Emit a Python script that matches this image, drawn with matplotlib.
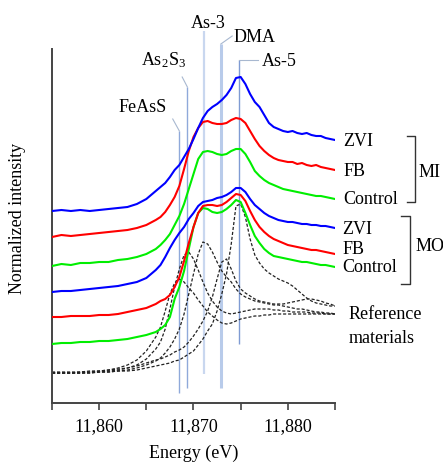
import matplotlib
matplotlib.use("Agg")
import matplotlib.pyplot as plt
from matplotlib.ticker import FuncFormatter, MultipleLocator

plt.rcParams['font.family'] = ['Liberation Serif', 'DejaVu Serif']
plt.rcParams['mathtext.fontset'] = 'stix'

# ---------------- data ----------------
energy = [11855, 11856, 11857, 11858, 11859, 11860, 11861, 11862, 11863, 11864,
          11865, 11866, 11866.5, 11867, 11867.5, 11868, 11868.5, 11869, 11869.5, 11870,
          11870.5, 11871, 11871.5, 11872, 11872.5, 11873, 11873.5, 11874, 11874.5, 11875,
          11875.5, 11876, 11876.5, 11877, 11877.5, 11878, 11878.5, 11879, 11879.5, 11880,
          11880.5, 11881, 11881.5, 11882, 11882.5, 11883, 11883.5, 11884, 11884.5, 11885]

mi_zvi = [1.92, 1.93, 1.92, 1.93, 1.92, 1.93, 1.94, 1.95, 1.96, 1.99,
          2.04, 2.12, 2.16, 2.20, 2.26, 2.33, 2.38, 2.46, 2.54, 2.64,
          2.75, 2.85, 2.92, 2.96, 2.99, 3.03, 3.08, 3.15, 3.25, 3.26,
          3.19, 3.09, 3.01, 2.96, 2.88, 2.80, 2.76, 2.74, 2.72, 2.71,
          2.72, 2.70, 2.69, 2.70, 2.68, 2.67, 2.67, 2.65, 2.64, 2.63]
mi_fb = [1.66, 1.68, 1.67, 1.68, 1.69, 1.70, 1.71, 1.72, 1.73, 1.75,
         1.78, 1.83, 1.86, 1.91, 1.98, 2.06, 2.17, 2.34, 2.52, 2.66,
         2.75, 2.81, 2.82, 2.80, 2.79, 2.79, 2.80, 2.83, 2.85, 2.84,
         2.80, 2.72, 2.64, 2.57, 2.52, 2.48, 2.45, 2.43, 2.42, 2.41,
         2.41, 2.39, 2.40, 2.38, 2.37, 2.38, 2.36, 2.35, 2.34, 2.33]
mi_control = [1.37, 1.39, 1.38, 1.40, 1.40, 1.41, 1.41, 1.43, 1.44, 1.46,
              1.49, 1.54, 1.58, 1.63, 1.69, 1.78, 1.87, 1.99, 2.14, 2.29,
              2.44, 2.51, 2.52, 2.51, 2.49, 2.48, 2.49, 2.52, 2.54, 2.54,
              2.49, 2.41, 2.32, 2.27, 2.23, 2.20, 2.18, 2.16, 2.14, 2.13,
              2.12, 2.11, 2.10, 2.09, 2.08, 2.07, 2.07, 2.06, 2.05, 2.04]
mo_zvi = [1.11, 1.12, 1.12, 1.13, 1.14, 1.15, 1.16, 1.17, 1.19, 1.21,
          1.25, 1.33, 1.38, 1.46, 1.55, 1.63, 1.70, 1.76, 1.84, 1.90,
          1.97, 2.01, 2.02, 2.03, 2.05, 2.06, 2.08, 2.11, 2.15, 2.15,
          2.11, 2.04, 1.98, 1.94, 1.90, 1.87, 1.85, 1.83, 1.82, 1.81,
          1.81, 1.80, 1.79, 1.79, 1.78, 1.78, 1.77, 1.77, 1.76, 1.75]
mo_fb = [0.86, 0.86, 0.87, 0.87, 0.87, 0.88, 0.88, 0.89, 0.91, 0.93,
         0.95, 0.99, 1.02, 1.04, 1.08, 1.16, 1.26, 1.42, 1.60, 1.76,
         1.90, 1.97, 1.98, 1.98, 1.97, 1.98, 2.01, 2.05, 2.09, 2.08,
         2.02, 1.92, 1.83, 1.76, 1.71, 1.67, 1.64, 1.62, 1.60, 1.58,
         1.57, 1.56, 1.55, 1.54, 1.53, 1.53, 1.52, 1.51, 1.50, 1.49]
mo_control = [0.59, 0.60, 0.60, 0.61, 0.61, 0.62, 0.62, 0.63, 0.64, 0.66,
              0.68, 0.71, 0.74, 0.78, 0.86, 1.04, 1.16, 1.32, 1.54, 1.76,
              1.90, 1.95, 1.94, 1.91, 1.90, 1.91, 1.94, 1.98, 2.03, 2.01,
              1.90, 1.78, 1.67, 1.60, 1.54, 1.50, 1.47, 1.46, 1.45, 1.44,
              1.43, 1.42, 1.41, 1.41, 1.40, 1.39, 1.38, 1.38, 1.37, 1.36]

ref_feass = [0.30, 0.30, 0.30, 0.31, 0.31, 0.32, 0.33, 0.35, 0.38, 0.43,
             0.52, 0.66, 0.76, 0.92, 1.09, 1.20, 1.24, 1.21, 1.15, 1.10,
             1.03, 0.97, 0.91, 0.87, 0.83, 0.80, 0.79, 0.80, 0.82, 0.84,
             0.85, 0.86, 0.87, 0.87, 0.88, 0.88, 0.89, 0.89, 0.89, 0.89,
             0.89, 0.89, 0.89, 0.89, 0.89, 0.89, 0.89, 0.89, 0.89, 0.89]
ref_as2s3 = [0.30, 0.30, 0.30, 0.30, 0.31, 0.31, 0.32, 0.33, 0.35, 0.38,
             0.44, 0.54, 0.61, 0.74, 0.94, 1.16, 1.34, 1.48, 1.51, 1.44,
             1.33, 1.21, 1.10, 1.02, 0.96, 0.92, 0.90, 0.89, 0.90, 0.91,
             0.92, 0.93, 0.94, 0.94, 0.94, 0.94, 0.93, 0.93, 0.92, 0.92,
             0.91, 0.91, 0.91, 0.91, 0.90, 0.90, 0.90, 0.89, 0.89, 0.89]
ref_as3 = [0.30, 0.30, 0.30, 0.30, 0.30, 0.31, 0.31, 0.32, 0.33, 0.35,
           0.38, 0.42, 0.45, 0.50, 0.56, 0.64, 0.74, 0.89, 1.09, 1.29,
           1.49, 1.61, 1.59, 1.51, 1.41, 1.32, 1.26, 1.21, 1.14, 1.09,
           1.06, 1.04, 1.02, 1.01, 1.00, 0.99, 0.98, 0.98, 0.97, 0.96,
           0.95, 0.94, 0.94, 0.93, 0.92, 0.91, 0.91, 0.90, 0.90, 0.89]
ref_dma = [0.31, 0.31, 0.31, 0.31, 0.32, 0.32, 0.33, 0.34, 0.35, 0.37,
           0.40, 0.43, 0.44, 0.46, 0.48, 0.51, 0.53, 0.56, 0.61, 0.67,
           0.74, 0.82, 0.92, 1.06, 1.24, 1.41, 1.44, 1.34, 1.22, 1.14,
           1.10, 1.07, 1.04, 1.02, 1.01, 1.00, 0.99, 0.99, 0.99, 1.00,
           1.01, 1.02, 1.03, 1.04, 1.04, 1.03, 1.02, 1.00, 0.99, 0.97]
ref_as5 = [0.30, 0.30, 0.30, 0.30, 0.30, 0.31, 0.31, 0.32, 0.32, 0.33,
           0.35, 0.37, 0.38, 0.39, 0.40, 0.42, 0.43, 0.46, 0.49, 0.52,
           0.58, 0.64, 0.72, 0.79, 0.92, 1.09, 1.29, 1.59, 1.97, 1.99,
           1.86, 1.64, 1.48, 1.40, 1.34, 1.30, 1.27, 1.24, 1.22, 1.20,
           1.17, 1.13, 1.09, 1.05, 1.02, 1.00, 0.99, 0.98, 0.97, 0.97]

edge_names = ['FeAsS', 'As$_\\mathregular{2}$S$_\\mathregular{3}$', 'As-3', 'DMA', 'As-5']
edge_energy = [11868.5, 11869.35, 11871.15, 11872.9, 11874.85]

sample_labels = ['ZVI', 'FB', 'Control']
group_labels = ['MI', 'MO']
x_ticks = [11860, 11870, 11880]

# ---------------- figure ----------------
fig = plt.figure(figsize=(4.43, 4.64), dpi=100)
ax = fig.add_axes([52/443, 60/464, 283/443, 354/464])
ax.set_xlim(11855, 11885)
ax.set_ylim(0, 3.54)

edge_style = [
    dict(color='#8fa9da', lw=1.0, bottom=0.10, top=2.72, lead=(11867.8, 2.84)),
    dict(color='#8fa9da', lw=1.0, bottom=0.15, top=3.16, lead=(11868.8, 3.26)),
    dict(color='#c9d7ef', lw=1.6, bottom=0.29, top=3.72, lead=None),
    dict(color='#b8cbea', lw=2.2, bottom=0.15, top=3.59, lead=(11874.1, 3.67)),
    dict(color='#7f9bd3', lw=1.0, bottom=0.59, top=3.43, lead=(11876.8, 3.43)),
]
for e, st in zip(edge_energy, edge_style):
    ax.plot([e, e], [st['bottom'], st['top']], color=st['color'], lw=st['lw'],
            clip_on=False, zorder=1, solid_capstyle='butt')
    if st['lead'] is not None:
        ax.plot([e, st['lead'][0]], [st['top'], st['lead'][1]], color='#a8b8d0',
                lw=0.8, clip_on=False, zorder=1)

for ref in [ref_feass, ref_as2s3, ref_as3, ref_dma, ref_as5]:
    ax.plot(energy, ref, color='#222222', lw=0.9, ls=(0, (2.5, 1.5)), zorder=2)

for ys, c in [(mo_control, '#00ee00'), (mo_fb, '#ff0000'), (mo_zvi, '#0000ff'),
              (mi_control, '#00ee00'), (mi_fb, '#ff0000'), (mi_zvi, '#0000ff')]:
    ax.plot(energy, ys, color=c, lw=1.5, zorder=3)

fs = 13
# edge labels
ax.text(11864.65, 2.96, edge_names[0], ha='center', va='center', fontsize=fs, clip_on=False)
ax.text(11866.8, 3.44, edge_names[1], ha='center', va='center', fontsize=fs, clip_on=False)
ax.text(11871.55, 3.81, edge_names[2], ha='center', va='center', fontsize=fs, clip_on=False)
ax.text(11874.2, 3.66, edge_names[3], ha='left', va='center', fontsize=fs, clip_on=False)
ax.text(11877.25, 3.42, edge_names[4], ha='left', va='center', fontsize=fs, clip_on=False)

# sample labels
for lab, y in zip(sample_labels, [2.62, 2.32, 2.04]):
    ax.text(11885.9, y, lab, ha='left', va='center', fontsize=fs, clip_on=False)
for lab, y in zip(sample_labels, [1.74, 1.54, 1.36]):
    ax.text(11885.8, y, lab, ha='left', va='center', fontsize=fs, clip_on=False)
ax.text(11886.4, 0.89, 'Reference', ha='left', va='center', fontsize=fs, clip_on=False)
ax.text(11886.4, 0.65, 'materials', ha='left', va='center', fontsize=fs, clip_on=False)

# brackets
ax.plot([11892.6, 11893.5, 11893.5, 11892.6], [2.67, 2.67, 2.01, 2.01],
        color='#333333', lw=1.0, clip_on=False)
ax.plot([11892.0, 11892.9, 11892.9, 11892.0], [1.87, 1.87, 1.19, 1.19],
        color='#333333', lw=1.0, clip_on=False)
ax.text(11893.85, 2.31, group_labels[0], ha='left', va='center', fontsize=fs, clip_on=False)
ax.text(11893.5, 1.57, group_labels[1], ha='left', va='center', fontsize=fs, clip_on=False)

# axes styling
for s in ['top', 'right']:
    ax.spines[s].set_visible(False)
for s in ['left', 'bottom']:
    ax.spines[s].set_color('#444444')
    ax.spines[s].set_linewidth(1.4)
ax.set_yticks([])
ax.set_xticks(x_ticks)
ax.xaxis.set_minor_locator(MultipleLocator(5))
ax.xaxis.set_major_formatter(FuncFormatter(lambda v, p: f"{v:,.0f}"))
ax.tick_params(axis='x', which='both', direction='out', length=5, width=1.2,
               color='#444444', labelsize=fs, pad=5)
ax.set_xlabel('Energy (eV)', fontsize=fs, labelpad=7)
ax.set_ylabel('Normalized intensity', fontsize=fs)
ax.yaxis.set_label_coords(-0.092, 0.525)

fig.savefig('out.png', dpi=100)
